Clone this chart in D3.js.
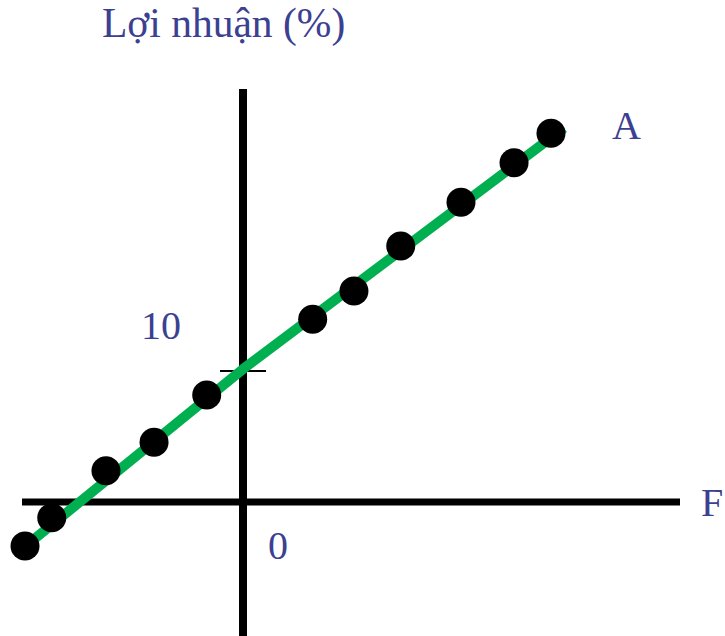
<!DOCTYPE html>
<html>
<head>
<meta charset="utf-8">
<script src="https://cdn.jsdelivr.net/npm/d3@7"></script>
<style>
html,body{margin:0;padding:0;background:#fff;}
svg{display:block;}
text{font-family:"Liberation Serif","Times New Roman",serif;fill:#3c4091;}
</style>
</head>
<body>
<script>
// Data (x: leverage units, y: profit %)
const pointX = [-16.64, -14.60, -10.46, -6.79, -2.77, 5.32, 8.47, 12.04, 16.64, 20.69, 23.51];
const pointY = [-3.36, -1.20, 2.39, 4.56, 8.17, 13.95, 16.11, 19.54, 22.88, 25.90, 28.15];
const lineX = [-16.7, 0, 24.5];
const lineY = [-3.45, 10.15, 28.55];
const yTickValues = [10];
const yTickLabels = ["10"];
const originLabel = "0";
const title = "Lợi nhuận (%)";
const xAxisLabel = "F";
const seriesLabel = "A";

const W = 725, H = 636;
const svg = d3.select("body").append("svg").attr("width", W).attr("height", H);

const x = d3.scaleLinear().domain([0, 10]).range([243, 374]);
const y = d3.scaleLinear().domain([0, 10]).range([502, 371]);

// Axes
svg.append("line").attr("x1", 22).attr("x2", 680).attr("y1", y(0)).attr("y2", y(0))
  .attr("stroke", "#000").attr("stroke-width", 7);
svg.append("line").attr("x1", x(0)).attr("x2", x(0)).attr("y1", 89).attr("y2", H)
  .attr("stroke", "#000").attr("stroke-width", 8);

// tick
svg.selectAll("line.tick").data(yTickValues).enter().append("line").attr("class", "tick")
  .attr("x1", x(0) - 23).attr("x2", x(0) + 23)
  .attr("y1", d => y(d)).attr("y2", d => y(d))
  .attr("stroke", "#000").attr("stroke-width", 2);

// Green line
const pts = lineX.map((v, i) => [x(v), y(lineY[i])]);
svg.append("path").attr("d", d3.line()(pts))
  .attr("fill", "none").attr("stroke", "#00b050").attr("stroke-width", 10)
  .attr("stroke-linejoin", "round");

// Points
svg.selectAll("circle").data(pointX.map((v, i) => [v, pointY[i]])).enter().append("circle")
  .attr("cx", d => x(d[0])).attr("cy", d => y(d[1])).attr("r", 14.5).attr("fill", "#000");

// Texts
svg.append("text").attr("x", 102).attr("y", 37).attr("font-size", 41.5).text(title);
svg.selectAll("text.yl").data(yTickValues).enter().append("text").attr("class", "yl")
  .attr("x", 141).attr("y", d => y(d) - 32).attr("font-size", 40).text((d, i) => yTickLabels[i]);
svg.append("text").attr("x", 268).attr("y", 559).attr("font-size", 40).text(originLabel);
svg.append("text").attr("x", 612).attr("y", 139).attr("font-size", 40).text(seriesLabel);
svg.append("text").attr("x", 701).attr("y", 516).attr("font-size", 40).text(xAxisLabel);
</script>
</body>
</html>
